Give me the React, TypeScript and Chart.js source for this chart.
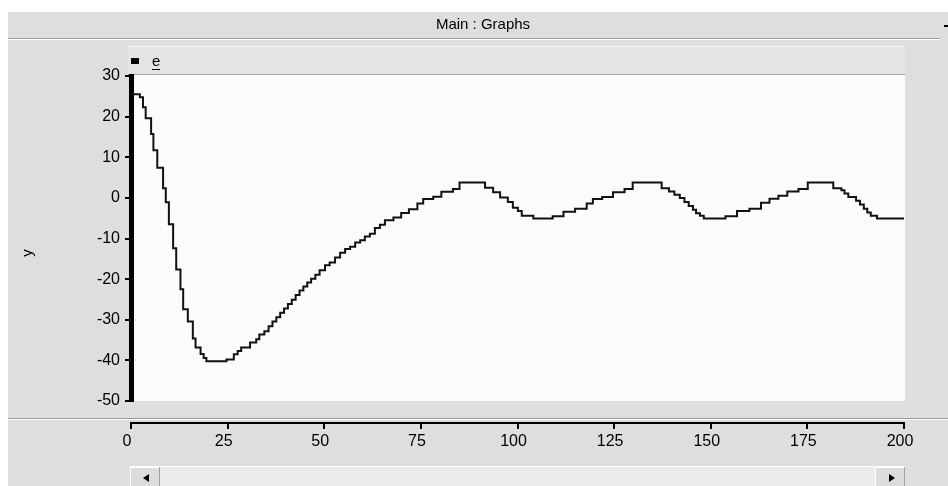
import React, { useEffect, useRef } from 'react';
import { Chart, registerables } from 'chart.js';

Chart.register(...registerables);

// Simulated error signal "e": each entry is the time at which a new level starts.
const dropTime = [0, 2.3, 3.1, 3.8, 5.2, 5.8, 6.8, 8.3, 9.0, 9.8, 10.9, 11.7, 12.8, 13.5, 14.7, 16.0, 16.7, 18.0, 18.8, 19.5];
const dropE = [25.5, 24.8, 22.3, 19.6, 15.7, 11.7, 7.4, 2.4, -1.1, -6.5, -12.4, -17.6, -22.5, -27.4, -30.4, -34.6, -36.8, -38.4, -39.4, -40.2];

const recoveryTime = [24.7, 26.6, 27.6, 28.5, 30.8, 32.4, 33.2, 34.5, 35.6, 36.6, 37.6, 38.6, 39.6, 40.6, 41.6, 42.6, 43.6, 44.6, 45.6, 46.6, 47.7, 48.8, 50.2, 51.4, 52.8, 54.1, 55.4, 56.7, 58.0, 59.3, 60.5, 61.8, 63.1, 64.4, 65.7, 67.9, 69.9, 71.9, 74.1, 75.6, 78.2, 80.3, 83.3];
const recoveryE = [-39.8, -38.5, -37.7, -36.8, -35.6, -34.8, -33.6, -32.8, -31.6, -30.4, -29.4, -28.3, -27.2, -26.1, -25.1, -23.9, -22.8, -21.8, -20.8, -19.9, -18.9, -17.8, -16.6, -15.9, -14.7, -13.5, -12.6, -12.0, -11.0, -10.4, -9.5, -8.8, -7.4, -6.6, -5.5, -4.8, -3.7, -2.8, -1.4, -0.3, 0.3, 1.5, 2.2];

const cycle1Time = [85.0, 91.6, 93.7, 95.5, 97.5, 98.8, 100.1, 101.1, 104.1, 109.1, 111.9, 114.9, 117.9, 119.5, 121.9, 124.7, 127.7];
const cycle1E = [3.8, 2.5, 1.4, 0.1, -1.0, -2.4, -3.2, -4.4, -5.1, -4.5, -3.4, -2.7, -1.4, -0.3, 0.2, 1.4, 2.2];

const cycle2Time = [129.8, 137.3, 139.2, 140.6, 142.0, 143.2, 144.3, 145.4, 146.2, 147.2, 148.2, 153.8, 156.8, 160.0, 163.0, 165.2, 167.5, 169.8, 172.7];
const cycle2E = [3.8, 2.4, 1.6, 0.8, 0.0, -1.0, -2.0, -2.9, -3.8, -4.4, -5.1, -4.5, -3.2, -2.7, -1.2, -0.2, 0.5, 1.6, 2.2];

const cycle3Time = [175.1, 181.7, 183.8, 184.6, 185.6, 187.6, 188.6, 189.6, 190.5, 191.4, 193.0, 200];
const cycle3E = [3.8, 2.4, 1.9, 1.1, 0.2, -0.7, -1.6, -2.7, -3.6, -4.4, -5.1, -5.1];

const xRange = [0, 200];
const xStep = 25;
const yRange = [-50, 30];
const yStep = 10;

const FONT = '"Liberation Sans", Arial, sans-serif';
const PANEL = '#dedede';
const PLOT = '#fbfbfb';

// Window chrome around the plot: title bar, legend strip, panel dividers, axis name and scrollbar.
const chromePlugin = {
  id: 'chrome',
  beforeDraw(chart: any) {
    const { ctx, width, height, chartArea: a } = chart;
    ctx.save();
    ctx.fillStyle = '#ffffff';
    ctx.fillRect(0, 0, width, height);
    ctx.fillStyle = PANEL;
    ctx.fillRect(8, 12, width - 8, height - 12);

    // title bar
    ctx.fillStyle = '#9c9c9c';
    ctx.fillRect(8, 38, width - 16, 1);
    ctx.fillStyle = '#ffffff';
    ctx.fillRect(8, 39, width - 16, 1);
    ctx.fillStyle = '#000000';
    ctx.font = `15px ${FONT}`;
    ctx.textAlign = 'center';
    ctx.textBaseline = 'middle';
    ctx.fillText('Main : Graphs', 483, 25);
    ctx.fillRect(944, 25, 4, 2);

    // legend strip
    const stripW = a.right + 1 - 128;
    ctx.fillStyle = '#e4e4e4';
    ctx.fillRect(128, 46, stripW, 29);
    ctx.fillStyle = '#f6f6f6';
    ctx.fillRect(128, 46, stripW, 1);
    ctx.fillStyle = '#a6a6a6';
    ctx.fillRect(128, 74, stripW, 1);
    ctx.fillStyle = '#000000';
    ctx.fillRect(131, 58, 8, 6);
    ctx.font = `15px ${FONT}`;
    ctx.textAlign = 'left';
    ctx.textBaseline = 'alphabetic';
    ctx.fillText('e', 152, 66);
    ctx.fillRect(152, 69, 8, 1);

    // plot background
    ctx.fillStyle = PLOT;
    ctx.fillRect(a.left, a.top - 1, a.right + 1 - a.left, a.bottom - a.top + 1);

    // divider between plot panel and time axis
    ctx.fillStyle = '#9c9c9c';
    ctx.fillRect(8, 418, width - 8, 1);
    ctx.fillStyle = '#ffffff';
    ctx.fillRect(8, 419, width - 8, 1);

    // y axis name
    ctx.save();
    ctx.translate(28, 253);
    ctx.rotate(-Math.PI / 2);
    ctx.fillStyle = '#000000';
    ctx.font = `15px ${FONT}`;
    ctx.textAlign = 'center';
    ctx.textBaseline = 'middle';
    ctx.fillText('y', 0, 0);
    ctx.restore();

    // horizontal scrollbar
    const sbTop = 466;
    const sbL = 130;
    const sbR = a.right + 1;
    ctx.fillStyle = '#ececec';
    ctx.fillRect(sbL, sbTop, sbR - sbL, height - sbTop);
    ctx.fillStyle = '#ffffff';
    ctx.fillRect(sbL, sbTop, sbR - sbL, 1);
    const button = (x0: number, w: number) => {
      ctx.fillStyle = '#dcdcdc';
      ctx.fillRect(x0, sbTop + 1, w, height - sbTop - 1);
      ctx.fillStyle = '#ffffff';
      ctx.fillRect(x0, sbTop + 1, w, 1);
      ctx.fillRect(x0, sbTop + 1, 1, height - sbTop - 1);
      ctx.fillStyle = '#a0a0a0';
      ctx.fillRect(x0 + w - 1, sbTop + 1, 1, height - sbTop - 1);
    };
    button(sbL, 30);
    button(sbR - 30, 30);
    ctx.fillStyle = '#000000';
    ctx.beginPath();
    ctx.moveTo(143, 478);
    ctx.lineTo(149, 474);
    ctx.lineTo(149, 482);
    ctx.closePath();
    ctx.fill();
    ctx.beginPath();
    ctx.moveTo(sbR - 16, 474);
    ctx.lineTo(sbR - 10, 478);
    ctx.lineTo(sbR - 16, 482);
    ctx.closePath();
    ctx.fill();
    ctx.restore();
  },
};

function toPoints(times: number[], values: number[]) {
  return times.map((t, i) => ({ x: t, y: values[i] }));
}

export default function App() {
  const canvasRef = useRef<HTMLCanvasElement>(null);

  useEffect(() => {
    if (!canvasRef.current) return;
    Chart.defaults.font.family = FONT;
    const points = [
      ...toPoints(dropTime, dropE),
      ...toPoints(recoveryTime, recoveryE),
      ...toPoints(cycle1Time, cycle1E),
      ...toPoints(cycle2Time, cycle2E),
      ...toPoints(cycle3Time, cycle3E),
    ];

    const chart = new Chart(canvasRef.current, {
      type: 'line',
      data: {
        datasets: [
          {
            label: 'e',
            data: points,
            borderColor: '#111111',
            borderWidth: 2,
            pointRadius: 0,
            stepped: 'before',
            fill: false,
          },
        ],
      },
      options: {
        animation: false,
        responsive: false,
        devicePixelRatio: 1,
        layout: { padding: { left: 0, top: 76, right: 44, bottom: 0 } },
        plugins: {
          legend: { display: false },
          tooltip: { enabled: false },
        },
        scales: {
          gap: {
            type: 'linear',
            position: 'bottom',
            weight: 0,
            grid: { display: false },
            border: { display: false },
            ticks: { display: false },
            afterFit: (s: any) => {
              s.height = 22;
            },
          },
          x: {
            type: 'linear',
            position: 'bottom',
            weight: 1,
            min: xRange[0],
            max: xRange[1],
            grid: {
              drawOnChartArea: false,
              drawTicks: true,
              tickLength: 6,
              tickColor: '#000000',
              lineWidth: 2,
            },
            border: { display: true, color: '#000000', width: 2 },
            ticks: {
              stepSize: xStep,
              autoSkip: false,
              maxRotation: 0,
              color: '#000000',
              font: { size: 16 },
              padding: 3,
              labelOffset: -4,
            },
            afterFit: (s: any) => {
              s.height = 63;
            },
          },
          y: {
            type: 'linear',
            position: 'left',
            min: yRange[0],
            max: yRange[1],
            grid: {
              drawOnChartArea: false,
              drawTicks: true,
              tickLength: 6,
              tickColor: '#000000',
              lineWidth: 2,
            },
            border: { display: true, color: '#000000', width: 5 },
            ticks: {
              stepSize: yStep,
              color: '#000000',
              font: { size: 16 },
              padding: 5,
            },
            afterFit: (s: any) => {
              s.width = 131;
            },
          },
        },
      },
      plugins: [chromePlugin],
    } as any);

    return () => chart.destroy();
  }, []);

  return (
    <div style={{ position: 'fixed', left: 0, top: 0, width: 948, height: 486 }}>
      <canvas ref={canvasRef} width={948} height={486} style={{ display: 'block' }} />
    </div>
  );
}
